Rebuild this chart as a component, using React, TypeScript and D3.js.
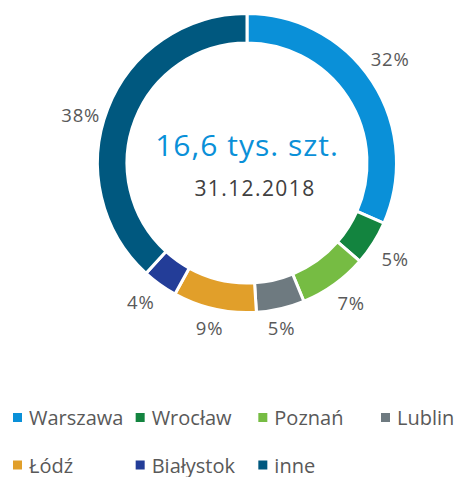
import React from "react";
import * as d3 from "d3";

const categories = ["Warszawa", "Wrocław", "Poznań", "Lublin", "Łódź", "Białystok", "inne"];
const shares = [31.6, 4.8, 7.4, 5.2, 9.0, 3.8, 38.2];
const labels = ["32%", "5%", "7%", "5%", "9%", "4%", "38%"];
const colors = ["#0A90D8", "#13843F", "#76BC43", "#6E7A80", "#E19F2A", "#233D98", "#00587F"];
const centerTitle = "16,6 tys. szt.";
const centerDate = "31.12.2018";
// label nudges (px) to mimic the original placement
const labelNudge: [number, number][] = [[-1, -11], [3, 3], [4, 0], [-4, -3], [0, -3], [-6, -1], [-6, 14]];

const W = 454, H = 477;
const cx = 247, cy = 163;
const outerR = 149.5, innerR = 120;
const font = "'Open Sans', sans-serif";

export default function App() {
  const pie = d3.pie<number>().sort(null).value((d) => d).startAngle(0).endAngle(2 * Math.PI);
  const arcs = pie(shares);
  const arc = d3.arc<d3.PieArcDatum<number>>().innerRadius(innerR).outerRadius(outerR);
  const labelArc = d3.arc<d3.PieArcDatum<number>>().innerRadius(172).outerRadius(172);

  const legendCols = d3.scaleLinear().domain([0, 3]).range([13, 381]);
  const legendRows = [417.5, 465];

  return (
    <svg width={W} height={H} style={{ position: "absolute", left: 0, top: 0, background: "#fff" }}>
      <g transform={`translate(${cx},${cy})`}>
        {arcs.map((a, i) => (
          <path key={i} d={arc(a) || ""} fill={colors[i]} stroke="#fff" strokeWidth={3} strokeLinejoin="miter" />
        ))}
        {arcs.map((a, i) => {
          const [x, y] = labelArc.centroid(a);
          return (
            <text key={"l" + i} x={x + labelNudge[i][0]} y={y + labelNudge[i][1]} textAnchor="middle" dominantBaseline="central"
              fontFamily={font} fontSize={18.5} fill="#595959" letterSpacing={0.8}>
              {labels[i]}
            </text>
          );
        })}
        <text x={0} y={-7} textAnchor="middle" fontFamily={font} fontSize={30} fill="#0A90D8" letterSpacing={1}>
          {centerTitle}
        </text>
        <text x={8} y={33} textAnchor="middle" fontFamily={font} fontSize={21} fill="#404040" letterSpacing={1.4}>
          {centerDate}
        </text>
      </g>
      {categories.map((c, i) => {
        const col = i % 4, row = Math.floor(i / 4);
        const x = legendCols(col), y = legendRows[row];
        return (
          <g key={"g" + i}>
            <rect x={x} y={y - 4.5} width={9} height={9} fill={colors[i]} />
            <text x={x + 16} y={y} dominantBaseline="central" fontFamily={font} fontSize={20} fill="#595959">
              {c}
            </text>
          </g>
        );
      })}
    </svg>
  );
}
